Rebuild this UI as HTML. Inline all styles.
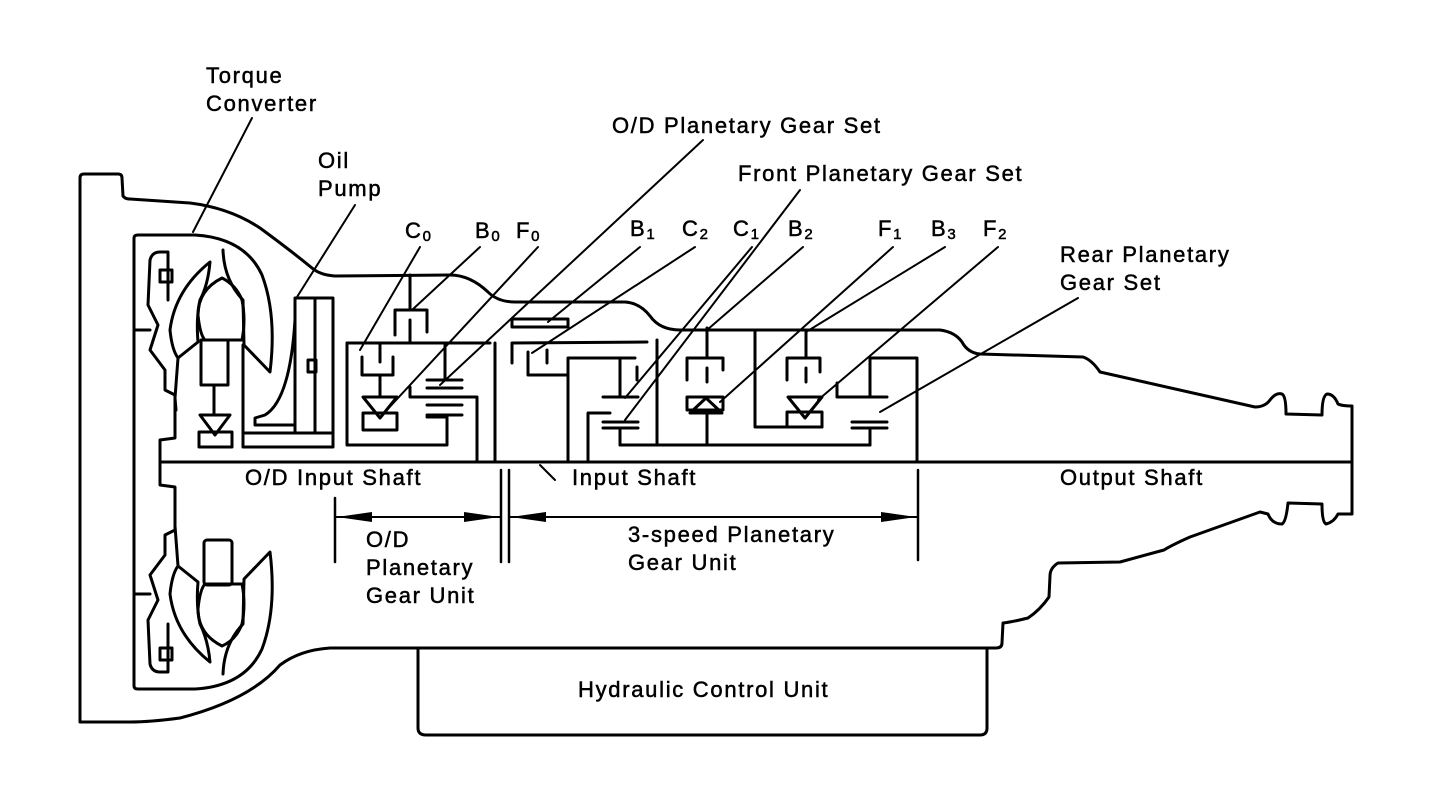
<!DOCTYPE html>
<html><head><meta charset="utf-8"><style>
html,body{margin:0;padding:0;background:#fff;}
svg{display:block}
text{font-family:"Liberation Sans",sans-serif;font-size:22px;fill:#000;stroke:#000;stroke-width:0.5px;letter-spacing:1.7px;}
</style></head><body>
<svg width="1440" height="790" viewBox="0 0 1440 790" xmlns="http://www.w3.org/2000/svg">
<g fill="none" stroke="#000" stroke-width="3" stroke-linejoin="round" stroke-linecap="round">
<!-- outer housing -->
<path d="M80,722 L80,178 Q80,174 84,174 L118,174 Q122,174 122,178 L123,196 Q125,199 130,199 L190,203 Q230,208 260,228 Q290,250 312,268 Q320,275 335,276 L450,275 Q470,275 488,292 Q498,302 515,302 L625,302 Q640,303 650,316 Q660,330 680,330 L940,330 Q955,332 962,342 Q968,353 980,354 L1083,357 Q1092,360 1100,372 L1255,407 Q1265,407 1270,400 Q1276,392 1282,394 Q1286,396 1286,414 L1322,415 Q1322,396 1327,394 Q1334,394 1338,404 Q1342,406 1352,406 L1352,514 L1338,514 Q1334,522 1326,524 Q1322,522 1322,504 L1288,503 Q1286,522 1282,524 Q1272,524 1268,514 L1260,512 L1190,537 Q1172,545 1164,550 L1120,562 L1058,563 Q1050,568 1050,576 L1049,597 Q1040,610 1028,618 Q1012,622 1003,623 L1002,643 Q1002,648 996,648 L330,648 Q300,650 280,665 Q250,700 180,718 Q150,722 130,722 L80,722 Z"/>
<path d="M418,648 L418,728 Q418,735 426,735 L980,735 Q987,735 987,728 L987,648"/>
<path d="M134,462 L134,238 Q134,235 138,235 L195,235 Q245,238 262,275 Q277,315 270,372 L244,345 L243,300 Q224,280 223,250"/>
<path d="M134,462 L134,686 Q134,689 138,689 L195,689 Q245,686 262,649 Q277,609 270,552 L244,579 L243,624 Q224,644 223,674"/>
<path d="M210,262 Q175,290 170,330 Q172,350 178,358 L198,342 Q196,318 200,300 Q208,285 210,262 Z"/>
<path d="M222,278 Q198,290 198,315 Q200,335 205,340 L242,340 Q246,320 242,300 Q236,285 222,278 Z"/>
<path d="M210,662 Q175,634 170,594 Q172,574 178,566 L198,582 Q196,606 200,624 Q208,640 210,662 Z"/>
<path d="M222,646 Q198,634 198,609 Q200,589 205,584 L242,584 Q246,604 242,624 Q236,640 222,646 Z"/>
<rect x="201" y="340" width="27" height="45"/>
<path d="M214,385 L214,415"/>
<path d="M200,415 L230,415 L215,435 Z"/>
<rect x="199" y="432" width="33" height="15"/>
<rect x="204" y="540" width="28" height="45" rx="3"/>
<path d="M160,465 L160,440 L175,438 L175,395 L165,390 L165,370 L150,350 L158,325 L148,305 L150,260 Q152,252 160,252 L168,252 L168,300"/>
<path d="M134,330 L150,330"/>
<rect x="160" y="270" width="12" height="12"/>
<path d="M178,358 L175,398 L176,410"/>
<path d="M160,462 L160,485 L175,487 L175,530 L165,535 L165,555 L150,575 L158,600 L148,620 L150,664 Q152,672 160,672 L168,672 L168,624"/>
<path d="M134,594 L150,594"/>
<rect x="160" y="648" width="12" height="12"/>
<path d="M178,566 L175,526"/>
<path d="M160,462 L1352,462"/>
<rect x="295" y="298" width="38" height="135"/>
<path d="M315,298 L315,433"/>
<path d="M295,320 Q290,400 265,415 L255,418 L255,425 L295,425"/>
<rect x="308" y="360" width="8" height="12"/>
<path d="M243,345 L243,447 L333,447 L333,433 M243,433 L333,433"/>
<path d="M347,343 L347,445 L447,445 L447,417 L427,417"/>
<path d="M347,343 L490,343"/>
<path d="M362,357 L362,375 L393,375 L393,357 M380,343 L380,362 M380,375 L380,397"/>
<path d="M363,397 L397,397 L380,418 Z"/>
<rect x="363" y="413" width="34" height="17"/>
<path d="M395,335 L395,310 L427,310 L427,332 M410,310 L410,275 M410,320 L410,343"/>
<path d="M427,380 L462,380 M427,388 L462,388 M427,405 L462,405 M427,415 L462,415"/>
<path d="M445,343 L445,380"/>
<path d="M410,387 L410,397 L477,397 L477,462"/>
<path d="M495,343 L495,462"/>
<rect x="512" y="319" width="56" height="8"/>
<path d="M512,363 L512,343 L647,342"/>
<path d="M528,352 L528,375 L568,375 M547,350 L547,363"/>
<path d="M568,462 L568,358 L635,358 M495,462 L568,462"/>
<path d="M603,397 L638,397 M603,422 L638,422 M603,428 L638,428 M620,358 L620,397 M637,367 L637,380 M620,428 L620,445"/>
<path d="M588,462 L588,413 L610,413"/>
<path d="M657,340 L657,445"/>
<path d="M620,445 L870,445"/>
<rect x="687" y="397" width="36" height="13"/>
<path d="M690,413 L722,413 L706,398 Z"/>
<path d="M707,413 L707,445 M707,328 L707,358 M687,380 L687,358 L723,358 L723,370 M707,368 L707,382"/>
<path d="M755,330 L755,427 L822,427"/>
<path d="M787,380 L787,358 L820,358 L820,372 M806,330 L806,358 M806,368 L806,382"/>
<path d="M788,397 L822,397 L805,418 Z"/>
<rect x="787" y="412" width="35" height="15"/>
<path d="M837,383 L837,397 L852,397"/>
<path d="M852,397 L887,397 M852,422 L887,422 M852,428 L887,428 M870,358 L870,397 M870,428 L870,445 M870,358 L917,358 L917,462"/>
<g stroke-width="2">
<path d="M252,118 L193,232"/>
<path d="M355,205 L297,297"/>
<path d="M420,247 L360,350"/>
<path d="M480,247 L412,310"/>
<path d="M538,247 L385,412"/>
<path d="M703,140 L440,385"/>
<path d="M640,247 L548,322"/>
<path d="M695,247 L532,353"/>
<path d="M752,247 L625,398"/>
<path d="M800,190 L625,420"/>
<path d="M803,247 L707,330"/>
<path d="M893,247 L720,402"/>
<path d="M945,247 L806,332"/>
<path d="M998,247 L818,400"/>
<path d="M1078,298 L880,412"/>
<path d="M540,465 L555,480"/>
</g>
<path d="M335,498 L335,562 M501,470 L501,562 M509,470 L509,562 M918,470 L918,560" stroke-width="2.5"/>
<path d="M335,517 L501,517 M509,517 L918,517" stroke-width="2"/>
</g>
<g fill="#000">
<path d="M337,517 L372,512 L372,522 Z"/>
<path d="M499,517 L464,512 L464,522 Z"/>
<path d="M511,517 L546,512 L546,522 Z"/>
<path d="M916,517 L881,512 L881,522 Z"/>
</g>
<text x="206" y="83">Torque</text>
<text x="206" y="111">Converter</text>
<text x="318" y="168">Oil</text>
<text x="318" y="196">Pump</text>
<text x="405" y="238">C<tspan font-size="15" dy="3">0</tspan></text>
<text x="475" y="238">B<tspan font-size="15" dy="3">0</tspan></text>
<text x="516" y="238">F<tspan font-size="15" dy="3">0</tspan></text>
<text x="612" y="133">O/D Planetary Gear Set</text>
<text x="630" y="236">B<tspan font-size="15" dy="3">1</tspan></text>
<text x="682" y="236">C<tspan font-size="15" dy="3">2</tspan></text>
<text x="733" y="236">C<tspan font-size="15" dy="3">1</tspan></text>
<text x="738" y="181">Front Planetary Gear Set</text>
<text x="788" y="236">B<tspan font-size="15" dy="3">2</tspan></text>
<text x="878" y="236">F<tspan font-size="15" dy="3">1</tspan></text>
<text x="931" y="236">B<tspan font-size="15" dy="3">3</tspan></text>
<text x="983" y="236">F<tspan font-size="15" dy="3">2</tspan></text>
<text x="1060" y="262">Rear Planetary</text>
<text x="1060" y="290">Gear Set</text>
<text x="245" y="485">O/D Input Shaft</text>
<text x="572" y="485">Input Shaft</text>
<text x="1060" y="485">Output Shaft</text>
<text x="366" y="547">O/D</text>
<text x="366" y="575">Planetary</text>
<text x="366" y="603">Gear Unit</text>
<text x="628" y="542">3-speed Planetary</text>
<text x="628" y="570">Gear Unit</text>
<text x="578" y="697">Hydraulic Control Unit</text>
</svg>
</body></html>
